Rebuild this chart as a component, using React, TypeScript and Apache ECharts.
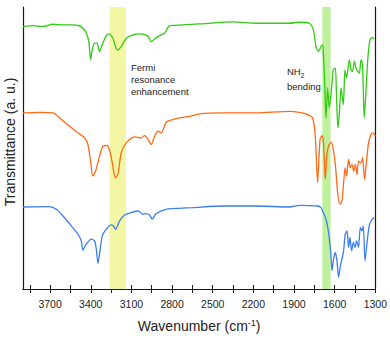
import React, { useEffect, useRef } from "react";
import * as echarts from "echarts";

// [wavenumber (cm-1), relative transmittance (a.u.)]
const greenSpectrum: number[][] = [
  [3900, 263.3], [3826, 264.3], [3753, 263.3], [3679, 265.7], [3605, 265], [3532, 265],
  [3470, 263.3], [3433, 256.7], [3414, 248.3], [3401, 230], [3389, 240], [3372, 246.7],
  [3355, 246.7], [3335, 238.3], [3315, 245], [3290, 253.3], [3266, 256], [3237, 251.7],
  [3204, 240], [3175, 243.3], [3138, 251.7], [3089, 255], [3040, 256], [2979, 254],
  [2954, 248.3], [2929, 250.7], [2905, 253.3], [2856, 256.7], [2819, 264], [2721, 265],
  [2598, 266], [2352, 268], [2180, 266.7], [1934, 266.7], [1861, 267.7], [1787, 266.7],
  [1757, 260], [1738, 243.3], [1719, 238.3], [1701, 243.3], [1689, 245], [1684, 238.3],
  [1674, 208.3], [1664, 171.7], [1652, 201.7], [1640, 181.7], [1627, 195], [1610, 220],
  [1595, 221.7], [1586, 191.7], [1576, 161.7], [1566, 175], [1553, 201.7], [1536, 185],
  [1524, 220], [1512, 211.7], [1492, 230], [1479, 220], [1468, 218.3], [1455, 228.3],
  [1438, 220], [1418, 216.7], [1406, 230], [1394, 225], [1382, 171.7], [1369, 198.3],
  [1357, 228.3], [1340, 250], [1325, 252.3], [1308, 251]
];

const orangeSpectrum: number[][] = [
  [3900, 176.7], [3777, 177.3], [3679, 176.7], [3630, 171.7], [3556, 163.3], [3495, 156.7],
  [3445, 151.7], [3421, 145], [3403, 130], [3384, 113.3], [3364, 118.3], [3335, 133.3],
  [3310, 143.3], [3281, 144], [3256, 136.7], [3237, 123.3], [3219, 111.7], [3200, 115],
  [3175, 136.7], [3138, 146.7], [3077, 152.7], [3027, 151.7], [3003, 154], [2979, 150.7],
  [2954, 145], [2929, 153.3], [2905, 158.3], [2880, 156.7], [2843, 167.3], [2795, 170],
  [2745, 171.7], [2671, 173.3], [2598, 175.7], [2426, 176.7], [2180, 176.7], [1934, 178.3],
  [1861, 177.3], [1800, 175], [1763, 171.7], [1743, 153.3], [1726, 106.7], [1708, 150],
  [1693, 154], [1682, 146.7], [1669, 110], [1656, 136.7], [1640, 145], [1625, 147.3],
  [1610, 140], [1595, 125], [1578, 96.7], [1561, 85], [1546, 88.3], [1534, 106.7],
  [1522, 121.7], [1512, 113.3], [1497, 130], [1485, 121.7], [1472, 125], [1460, 118.3],
  [1448, 125], [1435, 115], [1424, 128.3], [1406, 126.7], [1394, 131.7], [1379, 110],
  [1364, 130], [1350, 146.7], [1332, 155], [1315, 156.7], [1300, 153.3]
];

const blueSpectrum: number[][] = [
  [3900, 82.3], [3703, 82.7], [3654, 80], [3605, 73.3], [3543, 63.3], [3495, 55],
  [3470, 48.3], [3458, 39], [3433, 45], [3396, 50], [3372, 48.3], [3359, 40],
  [3347, 25.7], [3335, 35], [3315, 53.3], [3285, 60], [3249, 64.3], [3232, 63.3],
  [3217, 60], [3187, 68.3], [3150, 74.3], [3101, 76.7], [3051, 78.3], [3016, 75],
  [2991, 75.7], [2966, 74.3], [2946, 70], [2917, 75.7], [2843, 80], [2745, 81],
  [2647, 81.7], [2426, 83.3], [2180, 83.3], [1934, 82.3], [1861, 84], [1726, 83.3],
  [1701, 81.7], [1689, 78.3], [1664, 70], [1645, 56.7], [1627, 33.3], [1620, 18.3],
  [1608, 30], [1595, 36.7], [1583, 28.3], [1571, 11.7], [1558, 23.3], [1546, 30],
  [1534, 38.3], [1522, 55], [1509, 58.3], [1497, 41.7], [1487, 51.7], [1475, 38.3],
  [1462, 46.7], [1450, 41.7], [1438, 48.3], [1424, 41.7], [1411, 61.7], [1399, 58.3],
  [1389, 63.3], [1376, 28.3], [1361, 46.7], [1345, 63.3], [1325, 70], [1308, 71.7]
];

const fermiBand = [3140, 3262];
const nh2Band = [1630, 1691];

const xLabelValues = [1300, 1600, 1900, 2200, 2500, 2800, 3100, 3400, 3700];
const xTickValues = [1300, 1450, 1600, 1750, 1900, 2050, 2200, 2350, 2500, 2650, 2800, 2950, 3100, 3250, 3400, 3550, 3700, 3850];

const FONT = "Liberation Sans, Arial, sans-serif";
const AXIS_COLOR = "#1a1a1a";

export default function App() {
  const ref = useRef<HTMLDivElement>(null);
  useEffect(() => {
    document.body.style.margin = "0";
    if (!ref.current) return;
    const chart = echarts.init(ref.current, undefined, { renderer: "svg" });
    const lineSeries = (name: string, data: number[][], color: string) => ({
      name,
      type: "line",
      data,
      xAxisIndex: 0,
      yAxisIndex: 0,
      showSymbol: false,
      symbol: "none",
      smooth: 0.25,
      z: 3,
      lineStyle: { color, width: 1.3 },
    });
    chart.setOption({
      animation: false,
      textStyle: { fontFamily: FONT },
      grid: { left: 23, right: 14, top: 7, bottom: 48, containLabel: false },
      xAxis: [
        {
          type: "value",
          min: 1300,
          max: 3900,
          inverse: true,
          position: "bottom",
          axisLine: { show: true, lineStyle: { color: AXIS_COLOR, width: 1.2 } },
          axisTick: { show: true, inside: false, length: 4, customValues: xTickValues, lineStyle: { color: AXIS_COLOR } },
          axisLabel: {
            show: true,
            margin: 9,
            fontSize: 10.5,
            color: "#222",
            fontFamily: FONT,
            customValues: xLabelValues,
            formatter: (v: number) => String(v),
          },
          splitLine: { show: false },
          name: "Wavenumber (cm{sup|-1})",
          nameLocation: "middle",
          nameGap: 29,
          nameTextStyle: {
            fontSize: 14,
            color: "#222",
            fontFamily: FONT,
            rich: { sup: { fontSize: 9, verticalAlign: "top", padding: [0, 0, 7, 0], fontFamily: FONT, color: "#222" } },
          },
        },
        {
          type: "value",
          min: 1300,
          max: 3900,
          inverse: true,
          position: "top",
          axisLine: { show: true, lineStyle: { color: AXIS_COLOR, width: 1.2 } },
          axisTick: { show: true, inside: false, length: 4, customValues: xTickValues, lineStyle: { color: AXIS_COLOR } },
          axisLabel: { show: false },
          splitLine: { show: false },
        },
      ],
      yAxis: [
        {
          type: "value",
          min: 0,
          max: 283,
          position: "left",
          axisLine: { show: true, lineStyle: { color: AXIS_COLOR, width: 1.2 } },
          axisTick: { show: false },
          axisLabel: { show: false },
          splitLine: { show: false },
        },
        {
          type: "value",
          min: 0,
          max: 283,
          position: "right",
          axisLine: { show: true, lineStyle: { color: AXIS_COLOR, width: 1.2 } },
          axisTick: { show: false },
          axisLabel: { show: false },
          splitLine: { show: false },
        },
      ],
      series: [
        {
          name: "bands",
          type: "line",
          data: [],
          z: 1,
          silent: true,
          markArea: {
            silent: true,
            data: [
              [{ xAxis: fermiBand[0], itemStyle: { color: "#f3f7a4" } }, { xAxis: fermiBand[1] }],
              [{ xAxis: nh2Band[0], itemStyle: { color: "#bff09c" } }, { xAxis: nh2Band[1] }],
            ],
          },
        },
        lineSeries("sample A", greenSpectrum, "#2fcc12"),
        lineSeries("sample B", orangeSpectrum, "#ff6a14"),
        lineSeries("sample C", blueSpectrum, "#3b7df2"),
      ],
      graphic: [
        {
          type: "text",
          x: 10,
          y: 142,
          rotation: Math.PI / 2,
          style: {
            text: "Transmittance (a. u.)",
            fontSize: 14,
            fontFamily: FONT,
            fill: "#222",
            align: "center",
            verticalAlign: "middle",
          },
        },
        {
          type: "text",
          x: 131,
          y: 62,
          style: {
            text: "Fermi\nresonance\nenhancement",
            fontSize: 9.5,
            lineHeight: 11.7,
            fontFamily: FONT,
            fill: "#222",
          },
        },
        {
          type: "text",
          x: 287,
          y: 64,
          style: {
            text: "NH{sub|2}\nbending",
            fontSize: 9.5,
            lineHeight: 15,
            fontFamily: FONT,
            fill: "#222",
            rich: { sub: { fontSize: 6.5, verticalAlign: "bottom", padding: [5, 0, 0, 0], fontFamily: FONT, fill: "#222" } },
          },
        },
      ],
    });
    return () => chart.dispose();
  }, []);
  return <div ref={ref} style={{ width: 390, height: 338 }} />;
}
